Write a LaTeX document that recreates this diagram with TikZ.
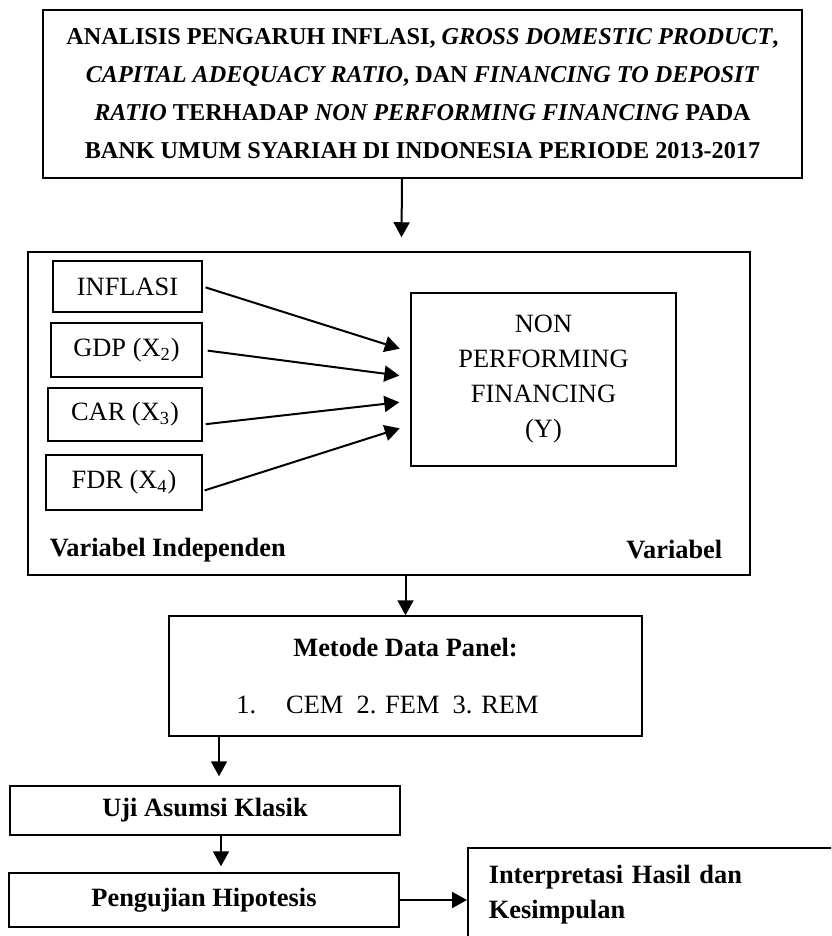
\documentclass[tikz,border=0pt]{standalone}
\usepackage{fontspec}
\setmainfont{Liberation Serif}
\usetikzlibrary{positioning}
\usetikzlibrary{arrows.meta}

\begin{document}
\begin{tikzpicture}[x=0.5pt, y=-0.5pt,
    every node/.style={draw, line width=0.75pt, inner sep=0pt},
    arr/.style={-{Triangle[length=7.5pt, width=8pt]}, line width=1pt},
    varbox/.style={rectangle, align=center, font=\fontsize{13.2}{17.5}\selectfont},
    stage/.style={rectangle, align=center, font=\fontsize{13.2}{17.5}\selectfont\bfseries}]
   \useasboundingbox (0,0) rectangle (831,936);
   \clip (0,0) rectangle (831,936);

   % judul penelitian
   \node[rectangle,
          minimum width = 379.5pt,
          minimum height = 84pt,
          align=center,
          font=\fontsize{12.1}{19}\selectfont\bfseries] (title) at (422.5,94)
          {ANALISIS PENGARUH INFLASI, \textit{GROSS DOMESTIC PRODUCT},\\
           \textit{CAPITAL ADEQUACY RATIO}, DAN \textit{FINANCING TO DEPOSIT}\\
           \textit{RATIO} TERHADAP \textit{NON PERFORMING FINANCING} PADA\\
           BANK UMUM SYARIAH DI INDONESIA PERIODE 2013-2017};

   % kerangka variabel
   \node[rectangle,
          minimum width = 361pt,
          minimum height = 161.5pt] (frame) at (389,413.5) {};
   \node[varbox, minimum width = 74.5pt, minimum height = 25.5pt] (inflasi) at (127.5,286.5) {INFLASI};
   \node[varbox, minimum width = 75.5pt, minimum height = 27pt] (gdp) at (126.5,350) {GDP (X\textsubscript{2})};
   \node[varbox, minimum width = 77pt, minimum height = 26.5pt] (car) at (125,414.5) {CAR (X\textsubscript{3})};
   \node[varbox, minimum width = 78pt, minimum height = 27.5pt] (fdr) at (124,482.5) {FDR (X\textsubscript{4})};
   \node[varbox, minimum width = 132.5pt, minimum height = 86.5pt] (npf) at (543.5,379.5)
          {NON\\PERFORMING\\FINANCING\\(Y)};
   \node[stage, draw=none, anchor=west] (indep) at (49,550) {Variabel Independen};
   \node[stage, draw=none, anchor=east] (dep) at (723,550) {Variabel};

   \draw[arr, shorten <=1.5pt, shorten >=5.5pt] (inflasi.east) -- ([yshift=13.75pt]npf.west);
   \draw[arr, shorten <=2.5pt, shorten >=5.5pt] (gdp.east) -- ([yshift=1.25pt]npf.west);
   \draw[arr, shorten <=1.5pt, shorten >=5.5pt] ([yshift=-5pt]car.east) -- ([yshift=-10.75pt]npf.west);
   \draw[arr, shorten <=1pt, shorten >=5.5pt] ([yshift=-4.25pt]fdr.east) -- ([yshift=-22.75pt]npf.west);

   % tahapan analisis
   \node[stage, minimum width = 236.5pt, minimum height = 60pt] (metode) at (405.5,676)
          {Metode Data Panel:\\[11pt]
           \mdseries 1.\hspace{15pt}CEM\ \ 2. FEM\ \ 3. REM\hspace*{18pt}};
   \node[stage, minimum width = 195pt, minimum height = 24.5pt] (uji) at (205,810.5) {Uji Asumsi Klasik};
   \node[stage, minimum width = 195pt, minimum height = 27pt] (peng) at (204,900) {Pengujian Hipotesis};
   \node[stage,
          anchor=north west,
          align=left,
          text width = 189pt,
          inner xsep = 10.5pt,
          minimum height = 47pt] (interp) at (467,847) {Interpretasi Hasil dan\\Kesimpulan};

   \draw[arr] ([xshift=-10.25pt]title.south) -- ([xshift=6.25pt, yshift=7pt]frame.north);
   \draw[arr] (frame.south -| metode.north) -- (metode.north);
   \draw[arr] ([xshift=-93.25pt]metode.south) -- ([xshift=7pt, yshift=4.5pt]uji.north);
   \draw[arr] ([xshift=8pt]uji.south) -- ([xshift=8.5pt, yshift=3pt]peng.north);
   \draw[arr] (peng.east) -- (peng.east -| interp.west);
\end{tikzpicture}
\end{document}
